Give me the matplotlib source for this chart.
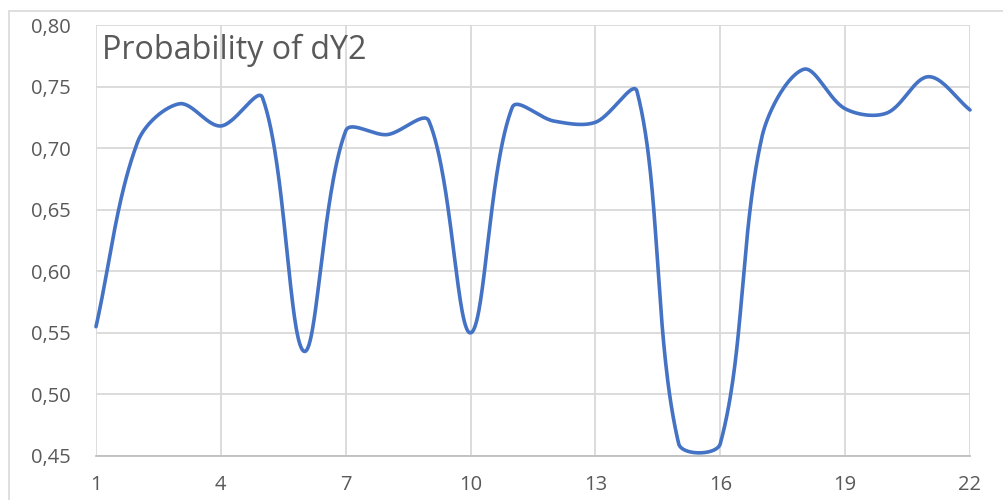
import numpy as np
import matplotlib
matplotlib.use("Agg")
import matplotlib.pyplot as plt
from matplotlib.patches import Rectangle

x_vals = list(range(1, 23))
y_vals = [0.555, 0.705, 0.736, 0.718, 0.741, 0.535, 0.714, 0.711, 0.722, 0.550,
          0.733, 0.722, 0.721, 0.746, 0.460, 0.460, 0.709, 0.764, 0.732, 0.7285,
          0.758, 0.731]
x_ticks = [1, 4, 7, 10, 13, 16, 19, 22]
y_ticks = [0.45, 0.50, 0.55, 0.60, 0.65, 0.70, 0.75, 0.80]
title = "Probability of dY2"

plt.rcParams['font.family'] = ['Open Sans', 'DejaVu Sans']
fig = plt.figure(figsize=(10.04, 5.0), dpi=100)
fig.patches.append(Rectangle((9/1004, -0.1), 1.2, 1 - 11/500 + 0.1, transform=fig.transFigure,
                             fill=False, edgecolor='#d9d9d9', linewidth=1.2))
ax = fig.add_axes([96/1004, 1 - 456/500, (970-96)/1004, (456-25)/500])
ax.set_xlim(1, 22)
ax.set_ylim(0.45, 0.80)
ax.set_xticks(x_ticks)
ax.set_yticks(y_ticks)
ax.set_yticklabels([f"{v:.2f}".replace('.', ',') for v in y_ticks])
ax.grid(True, color='#d9d9d9', linewidth=1.3)
ax.set_axisbelow(True)
for s in ['left', 'right', 'top']:
    ax.spines[s].set_visible(False)
ax.spines['bottom'].set_color('#bfbfbf')
ax.spines['bottom'].set_linewidth(1.3)
ax.tick_params(length=0, labelsize=14.5, colors='#595959')
ax.tick_params(axis='y', pad=18)
ax.tick_params(axis='x', pad=14)

# Excel-like smoothing in display space
fig.canvas.draw()
pts = ax.transData.transform(np.column_stack([x_vals, y_vals]))
n = len(pts)
curve = []
for i in range(n - 1):
    p0 = pts[i]; p1 = pts[i + 1]
    pm = pts[i - 1] if i > 0 else p0
    pp = pts[i + 2] if i + 2 < n else p1
    d0 = np.linalg.norm(p0 - pm); d1 = np.linalg.norm(p1 - p0); d2 = np.linalg.norm(pp - p1)
    c1 = p0 + (p1 - pm) * (d1 / (d0 + d1)) / 3 if i > 0 else p0 + (p1 - p0) / 3
    c2 = p1 - (pp - p0) * (d1 / (d1 + d2)) / 3 if i + 2 < n else p1 - (p1 - p0) / 3
    t = np.linspace(0, 1, 60)[:, None]
    seg = (1 - t) ** 3 * p0 + 3 * (1 - t) ** 2 * t * c1 + 3 * (1 - t) * t ** 2 * c2 + t ** 3 * p1
    curve.append(seg if i == 0 else seg[1:])
curve = np.vstack(curve)
data_curve = ax.transData.inverted().transform(curve)
ax.plot(data_curve[:, 0], data_curve[:, 1], color='#4472C4', linewidth=2.6,
        solid_capstyle='round', clip_on=False)

ax.text(102/1004, 1 - 50/500, title, transform=fig.transFigure, fontsize=23.2,
        color='#595959', va='center', ha='left')

fig.savefig("out.png", dpi=100)
